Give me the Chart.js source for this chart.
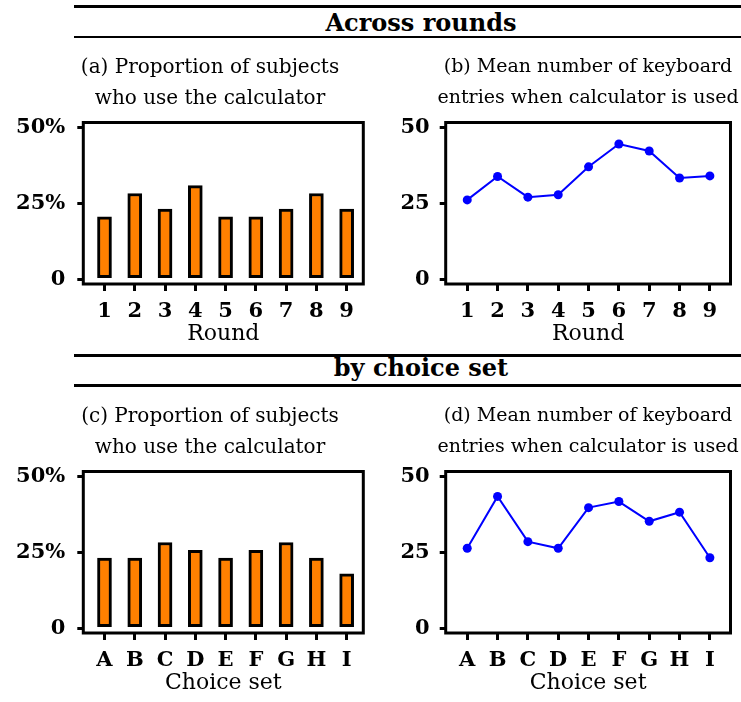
<!DOCTYPE html>
<html>
<head>
<meta charset="utf-8">
<script src="https://cdn.jsdelivr.net/npm/chart.js@4.4.0/dist/chart.umd.min.js"></script>
<style>
body { margin:0; background:#fff; width:741px; height:702px; position:relative; overflow:hidden; font-family:'DejaVu Serif', serif; }
.rule { position:absolute; left:74px; width:667px; height:2.5px; background:#000; }
.head { position:absolute; left:74px; width:640px; padding-left:27px; text-align:center; font-weight:bold; font-size:24px; line-height:30px; color:#000; }
canvas { position:absolute; }
</style>
</head>
<body>
<div class="rule" style="top:5px"></div>
<div class="head" style="top:8.4px">Across rounds</div>
<div class="rule" style="top:35.5px"></div>

<div class="rule" style="top:354.2px"></div>
<div class="head" style="top:353.4px">by choice set</div>
<div class="rule" style="top:384.4px"></div>

<canvas id="pa" width="420" height="302" style="left:0;top:45px"></canvas>
<canvas id="pb" width="371" height="302" style="left:370px;top:45px"></canvas>
<canvas id="pc" width="420" height="302" style="left:0;top:394px"></canvas>
<canvas id="pd" width="371" height="302" style="left:370px;top:394px"></canvas>

<script>
var rounds = ['1', '2', '3', '4', '5', '6', '7', '8', '9'];
var choiceSets = ['A', 'B', 'C', 'D', 'E', 'F', 'G', 'H', 'I'];

// share of subjects using the calculator (%)
var propByRound = [20.5, 28.2, 23.1, 30.8, 20.5, 20.5, 23.1, 28.2, 23.1];
var propByChoice = [23.1, 23.1, 28.2, 25.6, 23.1, 25.6, 28.2, 23.1, 17.9];

// mean keyboard entries when the calculator is used
var entriesByRound = [26.1, 33.8, 27.0, 27.8, 37.0, 44.5, 42.2, 33.3, 34.0];
var entriesByChoice = [26.3, 43.4, 28.5, 26.3, 39.7, 41.7, 35.2, 38.2, 23.2];

var yTickValues = [0, 25, 50];

var serif = 'DejaVu Serif';

// black box around the plot area
var framePlugin = {
    id: 'frame',
    afterDraw: function(chart) {
        var a = chart.chartArea, c = chart.ctx;
        c.save();
        c.lineWidth = 3;
        c.strokeStyle = '#000';
        c.strokeRect(a.left, a.top, a.right - a.left, a.bottom - a.top);
        c.restore();
    }
};

// re-centre the panel title over a chosen x position
var titleSpanPlugin = {
    id: 'titleSpan',
    afterLayout: function(chart, args, opts) {
        var t = chart.titleBlock;
        if (!t || opts.center == null) return;
        t.left = opts.center - 165;
        t.right = opts.center + 165;
        t.width = 330;
    }
};

function makePanel(id, kind, cats, values, title, xTitle, box) {
    var points = values.map(function(v, i) { return {x: i + 1, y: v}; });
    var dataset;
    if (kind === 'bar') {
        dataset = {
            type: 'bar',
            data: points,
            backgroundColor: '#ff8000',
            borderColor: '#000',
            borderWidth: 3,
            borderSkipped: false,
            barThickness: 14
        };
    } else {
        dataset = {
            type: 'line',
            data: points,
            borderColor: '#0000ff',
            backgroundColor: '#0000ff',
            borderWidth: 2,
            pointRadius: 4.5,
            pointBorderWidth: 0,
            pointBackgroundColor: '#0000ff',
            tension: 0,
            fill: false
        };
    }

    return new Chart(document.getElementById(id), {
        type: kind,
        data: { datasets: [dataset] },
        plugins: [framePlugin, titleSpanPlugin],
        options: {
            responsive: false,
            animation: false,
            layout: { padding: { left: 0, right: box.padRight, top: 0, bottom: 0 } },
            plugins: {
                legend: { display: false },
                tooltip: { enabled: false },
                titleSpan: { center: box.titleCenter },
                title: {
                    display: true,
                    text: title,
                    color: '#000',
                    font: { family: serif, size: box.titleSize, weight: 'normal', lineHeight: 31 / box.titleSize },
                    padding: { top: 7, bottom: 8.5 }
                }
            },
            scales: {
                x: {
                    type: 'linear',
                    min: box.xMin,
                    max: box.xMax,
                    offset: false,
                    afterBuildTicks: function(s) {
                        s.ticks = cats.map(function(c, i) { return {value: i + 1}; });
                    },
                    ticks: {
                        callback: function(v) { return cats[Math.round(v) - 1]; },
                        font: { family: serif, size: 21, weight: 'bold' },
                        color: '#000',
                        padding: 8,
                        maxRotation: 0,
                        autoSkip: false
                    },
                    grid: { offset: false, drawOnChartArea: false, tickLength: 7, lineWidth: 3, color: '#000' },
                    border: { display: false },
                    title: {
                        display: true,
                        text: xTitle,
                        color: '#000',
                        font: { family: serif, size: 22, weight: 'normal' },
                        padding: 0
                    },
                    afterFit: function(s) { s.height = 63; }
                },
                y: {
                    min: -1.6,
                    max: 51.6,
                    afterBuildTicks: function(s) {
                        s.ticks = yTickValues.map(function(v) { return {value: v}; });
                    },
                    ticks: {
                        callback: function(v) {
                            if (kind === 'bar' && v !== 0) return v + '%';
                            return String(v);
                        },
                        font: { family: serif, size: 21, weight: 'bold' },
                        color: '#000',
                        padding: box.labelPad
                    },
                    grid: { drawOnChartArea: false, tickLength: 6, lineWidth: 3, color: '#000' },
                    border: { display: false },
                    afterFit: function(s) { s.width = box.yWidth; }
                }
            }
        }
    });
}

var barBox = { yWidth: 83.3, padRight: 56.7, xMin: 0.3, xMax: 9.55, labelPad: 12, titleSize: 20, titleCenter: 210 };
var lineBox = { yWidth: 75.7, padRight: 10.5, xMin: 0.29, xMax: 9.68, labelPad: 10, titleSize: 19, titleCenter: 218 };

makePanel('pa', 'bar', rounds, propByRound,
    ['(a) Proportion of subjects', 'who use the calculator'], 'Round', barBox);
makePanel('pb', 'line', rounds, entriesByRound,
    ['(b) Mean number of keyboard', 'entries when calculator is used'], 'Round', lineBox);
makePanel('pc', 'bar', choiceSets, propByChoice,
    ['(c) Proportion of subjects', 'who use the calculator'], 'Choice set', barBox);
makePanel('pd', 'line', choiceSets, entriesByChoice,
    ['(d) Mean number of keyboard', 'entries when calculator is used'], 'Choice set', lineBox);
</script>
</body>
</html>
